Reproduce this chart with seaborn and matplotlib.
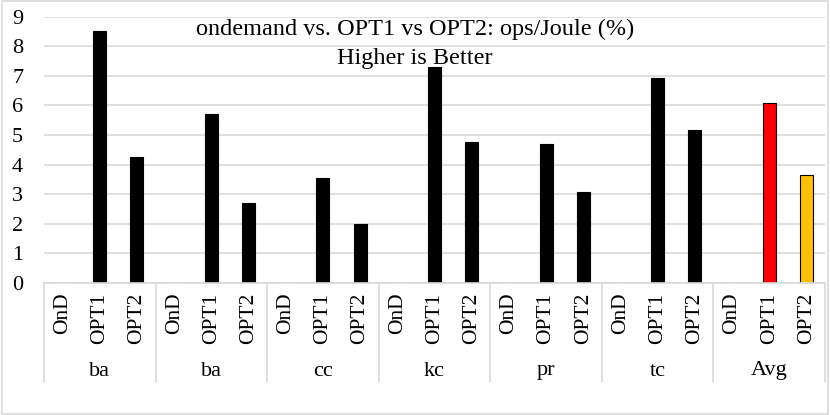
import matplotlib
matplotlib.use("Agg")
import matplotlib.pyplot as plt
import seaborn as sns
import pandas as pd
from matplotlib.patches import Rectangle

groups = ["ba", "ba", "cc", "kc", "pr", "tc", "Avg"]
subs = ["OnD", "OPT1", "OPT2"]
ond_vals = [0, 0, 0, 0, 0, 0, 0]
opt1_vals = [8.5, 5.7, 3.55, 7.3, 4.68, 6.92, 6.07]
opt2_vals = [4.25, 2.69, 2.0, 4.78, 3.08, 5.16, 3.64]
title_text = "ondemand vs. OPT1 vs OPT2: ops/Joule (%)\nHigher is Better"

rows = []
for gi, g in enumerate(groups):
    for s, vals in zip(subs, [ond_vals, opt1_vals, opt2_vals]):
        rows.append({"key": f"{gi}|{s}", "group": g, "sub": s, "value": vals[gi]})
df = pd.DataFrame(rows)

palette = {}
for _, r in df.iterrows():
    if r["group"] == "Avg" and r["sub"] == "OPT1":
        palette[r["key"]] = "#FF0000"
    elif r["group"] == "Avg" and r["sub"] == "OPT2":
        palette[r["key"]] = "#FFC000"
    else:
        palette[r["key"]] = "#000000"

sns.set_theme(style="white")
plt.rcParams["font.family"] = ["Liberation Serif", "DejaVu Serif"]
plt.rcParams["text.color"] = "black"
plt.rcParams["xtick.color"] = "black"
plt.rcParams["ytick.color"] = "black"

fig = plt.figure(figsize=(8.3, 4.15), dpi=100)
ax = fig.add_axes([44/830, 1-283/415, (825-44)/830, (283-16.6)/415])

sns.barplot(data=df, x="key", y="value", hue="key", palette=palette,
            order=df["key"].tolist(), hue_order=df["key"].tolist(),
            legend=False, width=0.35, ax=ax, saturation=1,
            edgecolor="#000000", linewidth=0.8)

ax.set_ylim(0, 9)
ax.set_xlim(-0.5, len(df) - 0.5)
ax.set_yticks(range(0, 10))
ax.yaxis.grid(True, color="#D9D9D9", linewidth=1.2)
ax.set_axisbelow(True)
for sp in ["top", "right", "left"]:
    ax.spines[sp].set_visible(False)
ax.spines["bottom"].set_color("#D9D9D9")
ax.spines["bottom"].set_linewidth(1.2)
ax.set_xlabel("")
ax.set_ylabel("")
ax.tick_params(axis="y", labelsize=16, length=0, pad=23, colors="black")
for lbl in ax.get_yticklabels():
    lbl.set_horizontalalignment("left")
ax.set_xticks(range(len(df)))
ax.set_xticklabels(df["sub"].tolist(), rotation=90, fontsize=15.5)
ax.tick_params(axis="x", length=0, pad=7, colors="black")

trans = ax.get_xaxis_transform()
y_bottom = -(382 - 283) / (283 - 16.6)
for i in range(len(groups) + 1):
    xpos = i * 3 - 0.5
    ax.plot([xpos, xpos], [0, y_bottom], transform=trans, color="#D9D9D9",
            linewidth=1.2, clip_on=False)
y_grp = -(371 - 283) / (283 - 16.6)
for i, g in enumerate(groups):
    ax.text(i * 3 + 1, y_grp, g, transform=trans, ha="center", va="center",
            fontsize=16)

fig.text(0.5, 1 - 44/415, title_text, ha="center", va="center",
         fontsize=17.5, linespacing=1.55)

fig.patches.append(Rectangle((0.002, 0.003), 0.996, 0.994, transform=fig.transFigure,
                             fill=False, edgecolor="#D9D9D9", linewidth=1.2))

fig.savefig("out.png", dpi=100)
